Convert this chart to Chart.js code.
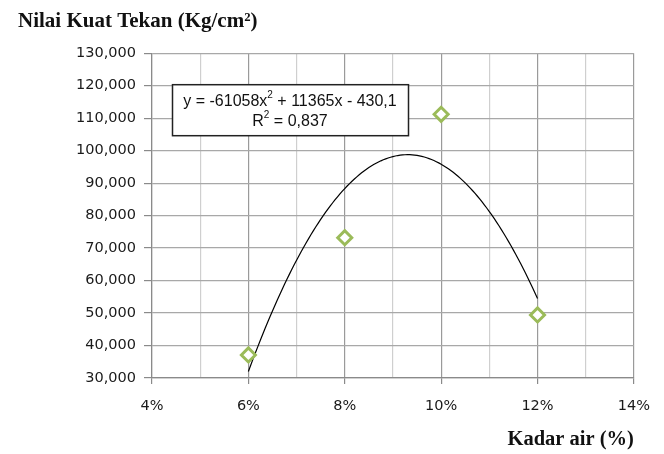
<!DOCTYPE html>
<html>
<head>
<meta charset="utf-8">
<script src="https://cdn.jsdelivr.net/npm/chart.js@4/dist/chart.umd.min.js"></script>
<style>
    html, body { margin: 0; padding: 0; background: #fff; }
    #wrap { width: 664px; height: 454px; }
</style>
</head>
<body>
<div id="wrap"><canvas id="chart" width="664" height="454"></canvas></div>
<script>
// kadar air (fraction) vs kuat tekan
const kadarAir = [0.06, 0.08, 0.10, 0.12];
const kuatTekan = [37.1, 73.2, 111.2, 49.4];

// polynomial trendline: y = a*x^2 + b*x + c
const trendCoef = [-61058, 11365, -430.1];
const trendR2 = 0.837;
const trendRange = [0.06, 0.12];

const yTicks = { min: 30, max: 130, step: 10 };
const xTicks = { min: 0.04, max: 0.14, step: 0.01 };

const labelFont = "'DejaVu Sans', Verdana, sans-serif";
const serifFont = "'Liberation Serif', 'Times New Roman', serif";

function fmtNum(v) {
    return v.toFixed(3).replace('.', ',');
}

function trendAt(x) {
    return trendCoef[0] * x * x + trendCoef[1] * x + trendCoef[2];
}

function trendPoints() {
    const pts = [];
    const n = 120;
    for (let i = 0; i <= n; i++) {
        const x = trendRange[0] + (trendRange[1] - trendRange[0]) * i / n;
        pts.push({ x: x, y: trendAt(x) });
    }
    return pts;
}

function isMajorX(v) {
    return Math.round(v * 100) % 2 === 0;
}

// equation box drawn above the grid
const equationBox = {
    id: 'equationBox',
    afterDatasetsDraw(chart) {
        const { ctx, chartArea } = chart;
        const x = chartArea.left + 20;
        const y = chartArea.top + 31;
        const w = 236, h = 51;
        ctx.save();
        ctx.fillStyle = '#fff';
        ctx.fillRect(x, y, w, h);
        ctx.strokeStyle = '#222';
        ctx.lineWidth = 1.5;
        ctx.strokeRect(x + 0.5, y + 0.5, w, h);

        const a = String(trendCoef[0]);
        const b = String(trendCoef[1]);
        const c = String(Math.abs(trendCoef[2])).replace('.', ',');
        const font = '16px "Liberation Sans", Arial, sans-serif';
        const supFont = '10px "Liberation Sans", Arial, sans-serif';
        ctx.fillStyle = '#111';
        ctx.textBaseline = 'middle';
        ctx.textAlign = 'left';

        const parts1 = [['y = ' + a + 'x', font, 0], ['2', supFont, -6], [' + ' + b + 'x - ' + c, font, 0]];
        const parts2 = [['R', font, 0], ['2', supFont, -6], [' = ' + String(trendR2).replace('.', ','), font, 0]];
        [[parts1, y + 17], [parts2, y + 37]].forEach(([parts, ly]) => {
            let total = 0;
            parts.forEach(p => { ctx.font = p[1]; total += ctx.measureText(p[0]).width; });
            let cx = x + w / 2 - total / 2;
            parts.forEach(p => {
                ctx.font = p[1];
                ctx.fillText(p[0], cx, ly + p[2]);
                cx += ctx.measureText(p[0]).width;
            });
        });
        ctx.restore();
    }
};

const ctx = document.getElementById('chart').getContext('2d');
new Chart(ctx, {
    type: 'scatter',
    data: {
        datasets: [
            {
                label: 'Trendline',
                data: trendPoints(),
                showLine: true,
                borderColor: '#000',
                borderWidth: 1.2,
                pointRadius: 0,
                fill: false,
                tension: 0,
                order: 2
            },
            {
                label: 'Kuat Tekan',
                data: kadarAir.map((x, i) => ({ x: x, y: kuatTekan[i] })),
                pointStyle: 'rectRot',
                pointRadius: 7,
                pointBorderWidth: 3,
                pointBorderColor: '#9BBB59',
                pointBackgroundColor: '#fff',
                showLine: false,
                order: 1
            }
        ]
    },
    options: {
        responsive: false,
        animation: false,
        layout: { padding: { left: 18, right: 26, top: 0, bottom: 0 } },
        plugins: {
            legend: { display: false },
            tooltip: { enabled: false },
            title: {
                display: true,
                text: 'Nilai Kuat Tekan (Kg/cm\u00b2)',
                align: 'start',
                color: '#111',
                font: { family: serifFont, size: 21, weight: 'bold', lineHeight: 1.2 },
                padding: { top: 9, bottom: 19 }
            }
        },
        scales: {
            x: {
                type: 'linear',
                min: xTicks.min,
                max: xTicks.max,
                afterFit: s => { s.height = 76; },
                ticks: {
                    stepSize: xTicks.step,
                    autoSkip: false,
                    maxRotation: 0,
                    padding: 14,
                    color: '#1a1a1a',
                    font: { family: labelFont, size: 14.5 },
                    callback: v => isMajorX(v) ? Math.round(v * 100) + '%' : ''
                },
                grid: {
                    color: c => isMajorX(c.tick.value) ? '#9a9a9a' : '#cfcfcf',
                    tickColor: c => isMajorX(c.tick.value) ? '#8a8a8a' : 'rgba(0,0,0,0)',
                    tickLength: 6,
                    lineWidth: 1.2
                },
                border: { color: '#8a8a8a', width: 1.2 },
                title: {
                    display: true,
                    text: 'Kadar air (%)',
                    align: 'end',
                    color: '#111',
                    font: { family: serifFont, size: 20.5, weight: 'bold', lineHeight: 1.2 },
                    padding: { top: 0, bottom: 2 }
                }
            },
            y: {
                min: yTicks.min,
                max: yTicks.max,
                afterFit: s => { s.width = 134; },
                ticks: {
                    stepSize: yTicks.step,
                    padding: 8,
                    color: '#1a1a1a',
                    font: { family: labelFont, size: 14.5 },
                    callback: v => fmtNum(v)
                },
                grid: {
                    color: '#a8a8a8',
                    tickColor: '#8a8a8a',
                    tickLength: 8,
                    lineWidth: 1.2
                },
                border: { color: '#8a8a8a', width: 1.2 }
            }
        }
    },
    plugins: [equationBox]
});
</script>
</body>
</html>
